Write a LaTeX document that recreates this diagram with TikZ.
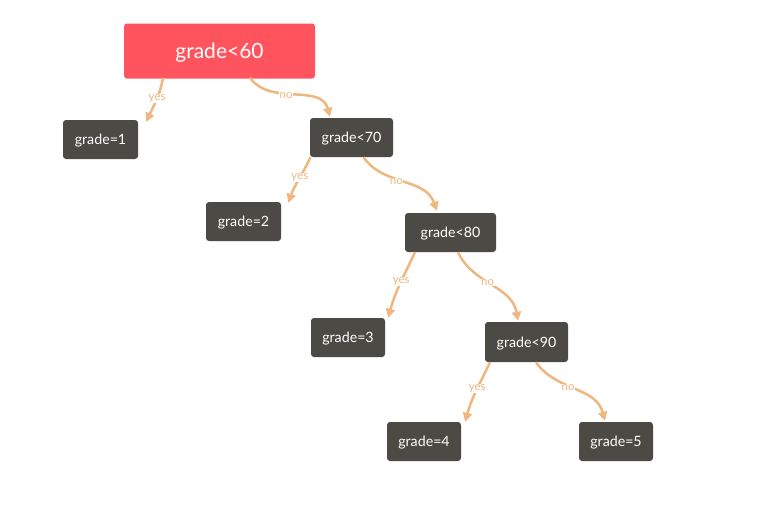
\documentclass[tikz,border=0pt]{standalone}
\usepackage{fontspec}
\setmainfont{Lato}
\usetikzlibrary{arrows.meta}
\definecolor{rootred}{HTML}{FF545E}
\definecolor{leafdark}{HTML}{4B4A45}
\definecolor{edgeorange}{HTML}{F0B67F}
\begin{document}
\begin{tikzpicture}[x=1pt,y=1pt,
  rootbox/.style={fill=rootred,text=white,rounded corners=3pt,minimum width=191pt,minimum height=55pt,inner sep=0pt,text depth=0pt,font=\fontsize{21}{24}\selectfont},
  darkbox/.style={fill=leafdark,text=white,rounded corners=3pt,minimum height=39pt,inner sep=0pt,text depth=0pt,font=\fontsize{14.2}{16}\selectfont},
  conn/.style={draw=edgeorange,line width=2.5pt,-{Triangle[length=9pt,width=9pt]}},
  elabel/.style={text=edgeorange,fill=white,inner sep=0.6pt,font=\fontsize{11.5}{13}\selectfont}]
\useasboundingbox (0,0) rectangle (760,-517);
\node[rootbox] (root) at (219.5,-51) {grade<60};
\node[darkbox,minimum width=75pt] (g1) at (100.5,-139.5) {grade=1};
\node[darkbox,minimum width=83pt] (g70) at (351.5,-137.5) {grade<70};
\node[darkbox,minimum width=75pt] (g2) at (243.5,-221.5) {grade=2};
\node[darkbox,minimum width=91pt] (g80) at (450.5,-232.5) {grade<80};
\node[darkbox,minimum width=74pt] (g3) at (348,-337.5) {grade=3};
\node[darkbox,minimum width=83pt,minimum height=40pt] (g90) at (526.5,-342) {grade<90};
\node[darkbox,minimum width=74pt] (g4) at (424,-441.5) {grade=4};
\node[darkbox,minimum width=74pt] (g5) at (616,-441.5) {grade=5};
% edges
\draw[conn] ([xshift=-56.5pt,yshift=1pt]root.south) to[out=-100,in=65] node[elabel,pos=0.45] {yes} ([xshift=8pt,yshift=-2pt]g1.north east);
\draw[conn] ([xshift=30.5pt,yshift=1pt]root.south) to[out=-55,in=105] node[elabel,pos=0.42,yshift=-1.5pt] {no} ([xshift=-21.5pt,yshift=1pt]g70.north);
\draw[conn] ([xshift=-41pt]g70.south) to[out=-115,in=70] node[elabel,pos=0.45] {yes} ([xshift=7pt,yshift=-1pt]g2.north east);
\draw[conn] ([xshift=12pt]g70.south) to[out=-55,in=110] node[elabel,pos=0.42,yshift=-1.5pt] {no} ([xshift=-13.5pt,yshift=2pt]g80.north);
\draw[conn] ([xshift=-35.5pt]g80.south) to[out=-115,in=75] node[elabel,pos=0.45] {yes} ([xshift=3pt,yshift=0pt]g3.north east);
\draw[conn] ([xshift=7.5pt]g80.south) to[out=-65,in=100] node[elabel,pos=0.45] {no} ([xshift=-8.5pt,yshift=1pt]g90.north);
\draw[conn] ([xshift=-36.5pt]g90.south) to[out=-115,in=75] node[elabel,pos=0.45] {yes} ([xshift=4pt,yshift=0pt]g4.north east);
\draw[conn] ([xshift=9.5pt]g90.south) to[out=-55,in=105] node[elabel,pos=0.42,yshift=-1.5pt] {no} ([xshift=-11pt,yshift=1pt]g5.north);
\end{tikzpicture}
\end{document}
